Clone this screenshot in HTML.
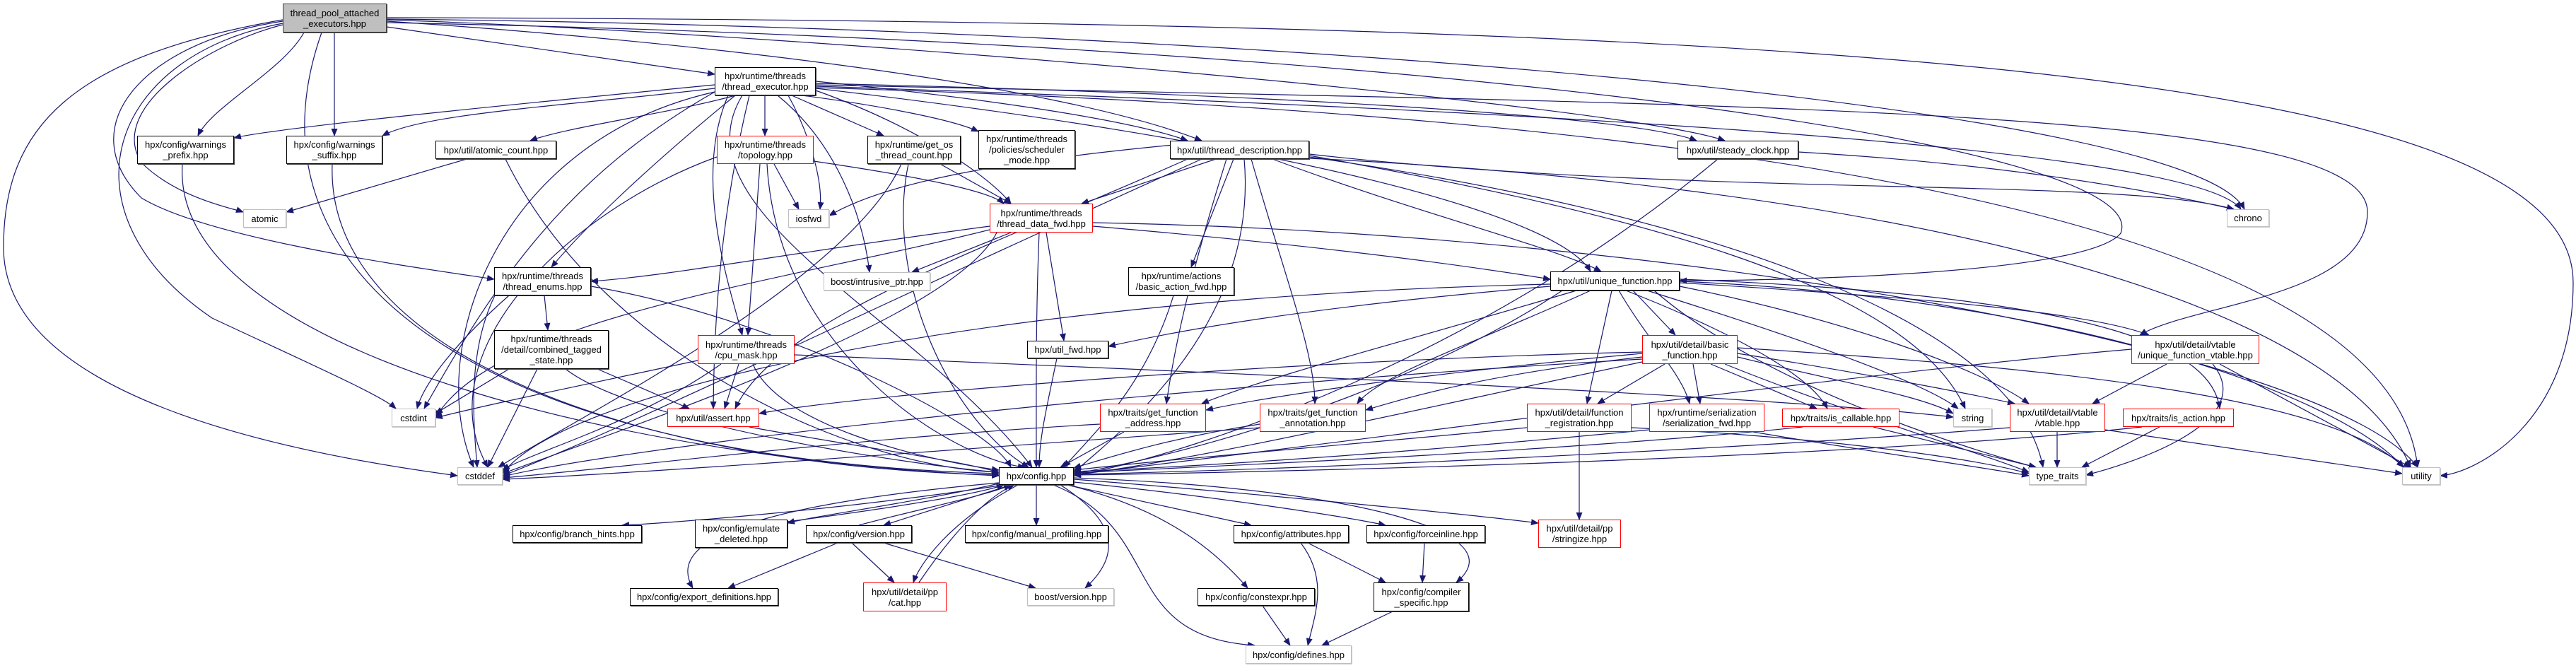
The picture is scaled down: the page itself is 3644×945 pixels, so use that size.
<!DOCTYPE html>
<html><head><meta charset="utf-8">
<style>
html,body{margin:0;padding:0;background:#fff;}
#w{position:relative;width:3644px;height:945px;overflow:hidden;background:#fff;}
svg{position:absolute;left:0;top:0;}
.n{position:absolute;box-sizing:border-box;border:1px solid #000;background:#fff;display:flex;align-items:center;justify-content:center;text-align:center;font-family:"Liberation Sans",sans-serif;font-size:13px;line-height:15px;color:#000;white-space:nowrap;box-shadow:1px 1px 0 #444;}
.r{border-color:#f00;box-shadow:none;}
.g{border-color:#bfbfbf;box-shadow:1px 1px 0 #ccc;}
.root{background:#bfbfbf;border-color:#404040;}
</style></head><body><div id="w">
<svg width="3644" height="945" viewBox="0 0 3644 945">
<defs><marker id="a" markerUnits="userSpaceOnUse" markerWidth="11" markerHeight="9" refX="10" refY="4.5" orient="auto"><path d="M0,0 L11,4.5 L0,9 z" fill="#191970"/></marker></defs>
<g fill="none" stroke="#191970" stroke-width="1.2" marker-end="url(#a)">
<path d="M547,38 L1011,105"/>
<path d="M430,46 C400,100 300,150 280,192"/>
<path d="M473,46 L473,192"/>
<path d="M400,35 C300,60 150,150 200,230 C250,280 330,295 344,300"/>
<path d="M400,30 C200,60 100,180 200,280 C300,340 600,380 699,395"/>
<path d="M400,33 C150,80 80,300 300,450 C450,520 540,560 560,578"/>
<path d="M400,28 C100,80 5,180 5,350 C5,560 400,640 647,673"/>
<path d="M455,46 C330,400 700,650 1413,670"/>
<path d="M547,30 C1000,60 1500,120 1700,199"/>
<path d="M547,28 C1200,50 2300,150 2440,199"/>
<path d="M547,32 C2000,60 3050,200 3000,330 C2950,390 2500,397 2376,397"/>
<path d="M547,27 C1800,40 3100,150 3175,296"/>
<path d="M547,25 C2600,30 3640,100 3640,400 C3640,600 3500,670 3452,673"/>
<path d="M1154,120 C2500,150 3349,150 3349,300 C3349,420 3100,430 3027,474"/>
<path d="M1011,120 C700,150 400,180 331,195"/>
<path d="M1011,125 C800,150 600,160 541,192"/>
<path d="M1040,135 C950,160 800,180 750,199"/>
<path d="M1082,135 L1082,192"/>
<path d="M1120,135 L1250,192"/>
<path d="M1135,135 C1250,150 1350,170 1384,186"/>
<path d="M1154,115 C1400,140 1600,170 1680,199"/>
<path d="M1154,118 C1700,130 2300,160 2400,199"/>
<path d="M1115,135 C1140,180 1165,250 1160,296"/>
<path d="M1154,128 C1300,180 1400,250 1430,288"/>
<path d="M1040,135 C900,250 820,330 780,378"/>
<path d="M1030,135 C980,250 1030,400 1050,474"/>
<path d="M1154,125 C1800,200 2200,300 2250,384"/>
<path d="M1050,135 C950,300 1300,450 1460,661"/>
<path d="M1011,130 C700,200 600,500 670,661"/>
<path d="M1011,130 C800,250 700,400 600,578"/>
<path d="M1154,122 C2000,150 3100,200 3170,296"/>
<path d="M1154,124 C2400,160 3380,300 3420,661"/>
<path d="M1100,135 C1180,200 1220,300 1230,385"/>
<path d="M1060,135 C1020,300 1010,450 1009,578"/>
<path d="M258,232 C240,500 900,650 1413,673"/>
<path d="M470,232 C460,500 900,660 1413,672"/>
<path d="M660,225 L405,300"/>
<path d="M715,225 C850,500 1200,660 1413,668"/>
<path d="M1095,232 L1130,296"/>
<path d="M1075,232 L1058,474"/>
<path d="M1085,232 C1100,500 1350,650 1450,661"/>
<path d="M1014,222 C800,300 600,500 690,661"/>
<path d="M1151,228 C1300,250 1400,270 1420,288"/>
<path d="M1330,232 L1430,288"/>
<path d="M1285,232 C1250,400 1350,600 1455,661"/>
<path d="M1275,232 C1200,400 800,600 705,661"/>
<path d="M1660,205 C1400,230 1250,260 1173,305"/>
<path d="M1720,225 L1530,288"/>
<path d="M1745,225 L1685,378"/>
<path d="M1800,225 C2000,300 2200,350 2265,384"/>
<path d="M1735,225 C1680,400 1660,500 1650,571"/>
<path d="M1770,225 C1820,400 1860,500 1860,571"/>
<path d="M1760,225 C1780,450 1600,600 1519,668"/>
<path d="M1852,220 C2300,300 2700,400 2780,578"/>
<path d="M1852,222 C2400,300 2850,450 2890,661"/>
<path d="M1852,224 C2600,260 3300,400 3410,661"/>
<path d="M1680,225 C1400,350 1100,450 1040,578"/>
<path d="M1700,225 C1200,450 900,600 711,673"/>
<path d="M1852,218 C2400,280 3000,250 3160,296"/>
<path d="M2544,215 C2800,230 3000,260 3160,296"/>
<path d="M2430,225 C2100,500 1700,640 1519,673"/>
<path d="M1400,320 C1100,360 950,390 836,398"/>
<path d="M1430,329 L1290,385"/>
<path d="M1480,329 L1505,482"/>
<path d="M1546,320 C1900,350 2100,380 2193,395"/>
<path d="M1470,329 C1465,450 1466,550 1466,661"/>
<path d="M1410,329 C1350,450 900,600 711,670"/>
<path d="M1400,325 C1100,400 700,450 616,591"/>
<path d="M1546,315 C2400,330 3300,500 3420,661"/>
<path d="M770,418 L775,467"/>
<path d="M836,405 C1100,450 1400,600 1430,661"/>
<path d="M720,418 C650,480 600,540 590,578"/>
<path d="M700,418 C660,500 670,600 675,661"/>
<path d="M1660,418 C1620,550 1540,620 1505,661"/>
<path d="M2193,405 C1900,430 1700,460 1568,490"/>
<path d="M2310,411 L2370,474"/>
<path d="M2376,400 C2700,420 2950,440 3040,474"/>
<path d="M2230,411 C2000,480 1800,530 1700,571"/>
<path d="M2250,411 C2100,480 1950,530 1920,571"/>
<path d="M2280,411 L2245,571"/>
<path d="M2290,411 C2330,480 2380,530 2390,571"/>
<path d="M2300,411 C2450,470 2560,530 2585,578"/>
<path d="M2376,405 C2600,450 2800,520 2870,571"/>
<path d="M2330,411 C2550,480 2720,540 2770,578"/>
<path d="M2210,411 C2000,550 1700,640 1519,670"/>
<path d="M2193,402 C1400,420 800,550 711,670"/>
<path d="M2340,411 C2500,550 2800,640 2880,661"/>
<path d="M2376,398 C2900,420 3300,550 3400,661"/>
<path d="M2376,395 C3000,420 3130,500 3140,578"/>
<path d="M720,522 L616,585"/>
<path d="M760,522 L690,661"/>
<path d="M845,522 L975,578"/>
<path d="M800,522 C900,600 1300,660 1413,668"/>
<path d="M1045,515 L1025,578"/>
<path d="M987,510 C800,550 700,570 616,591"/>
<path d="M1020,515 C900,600 750,640 711,665"/>
<path d="M1065,515 C1100,600 1300,650 1413,665"/>
<path d="M1124,502 C1800,530 2500,560 2763,590"/>
<path d="M1495,507 C1480,580 1470,620 1470,661"/>
<path d="M2323,500 C2000,530 1800,560 1706,580"/>
<path d="M2323,505 C2100,530 2000,560 1932,580"/>
<path d="M2355,515 L2260,571"/>
<path d="M2395,515 L2405,571"/>
<path d="M2420,515 L2570,578"/>
<path d="M2458,505 C2600,540 2720,560 2763,585"/>
<path d="M2458,500 C2650,530 2800,560 2850,571"/>
<path d="M2440,515 C2600,580 2800,640 2870,668"/>
<path d="M2458,492 C2900,520 3300,560 3400,661"/>
<path d="M2323,512 C2000,580 1700,650 1519,672"/>
<path d="M2323,508 C1600,550 900,630 711,674"/>
<path d="M2323,498 C1800,510 1200,560 1074,585"/>
<path d="M3065,515 L2960,571"/>
<path d="M3130,515 C3200,600 3000,660 2951,672"/>
<path d="M3140,515 L3410,661"/>
<path d="M3015,494 C2600,530 1800,640 1519,671"/>
<path d="M1590,611 L1500,661"/>
<path d="M1556,600 C1200,620 900,660 711,676"/>
<path d="M1782,600 C1650,620 1560,650 1519,662"/>
<path d="M1782,605 C1300,640 900,670 711,678"/>
<path d="M2234,611 L2234,735"/>
<path d="M2160,605 C1900,630 1650,650 1519,665"/>
<path d="M2308,605 C2600,620 2800,650 2870,670"/>
<path d="M2333,608 C2000,640 1700,660 1519,667"/>
<path d="M2480,611 C2650,640 2800,660 2870,673"/>
<path d="M2550,604 C2200,640 1700,660 1519,669"/>
<path d="M2650,604 L2880,661"/>
<path d="M2910,611 L2910,661"/>
<path d="M2978,608 L3398,670"/>
<path d="M2843,605 C2400,640 1800,665 1519,671"/>
<path d="M3030,604 C2600,650 1800,668 1519,672"/>
<path d="M3055,604 L2945,661"/>
<path d="M1060,604 C1200,630 1350,650 1413,668"/>
<path d="M1420,686 C1200,720 950,740 880,743"/>
<path d="M1413,684 C1300,710 1150,730 1114,740"/>
<path d="M1430,686 L1250,743"/>
<path d="M1466,686 L1466,743"/>
<path d="M1510,686 L1770,743"/>
<path d="M1519,682 C1700,700 1900,730 1960,743"/>
<path d="M1519,678 C1800,700 2100,730 2176,740"/>
<path d="M1440,686 C1340,740 1300,800 1292,824"/>
<path d="M1500,686 C1600,750 1570,800 1535,832"/>
<path d="M1510,686 C1650,720 1720,780 1765,832"/>
<path d="M1519,676 C1900,690 2150,750 2060,824"/>
<path d="M1413,683 C1000,720 950,780 980,832"/>
<path d="M1490,686 C1650,750 1580,900 1775,913"/>
<path d="M1114,738 C1250,720 1380,700 1420,686"/>
<path d="M1215,743 C1300,720 1400,700 1430,686"/>
<path d="M1300,824 C1350,750 1400,700 1435,686"/>
<path d="M1205,768 L1265,824"/>
<path d="M1250,768 L1465,832"/>
<path d="M1185,768 L1030,832"/>
<path d="M1850,768 L1960,824"/>
<path d="M1840,768 C1880,820 1860,870 1850,913"/>
<path d="M2015,768 L2012,824"/>
<path d="M1786,857 L1825,913"/>
<path d="M1970,865 L1870,913"/>
</g></svg>

<div class="n root" style="left:400px;top:5px;width:147px;height:41px">thread_pool_attached<br>_executors.hpp</div>
<div class="n" style="left:1011px;top:95px;width:143px;height:40px">hpx/runtime/threads<br>/thread_executor.hpp</div>
<div class="n" style="left:194px;top:192px;width:137px;height:40px">hpx/config/warnings<br>_prefix.hpp</div>
<div class="n" style="left:405px;top:192px;width:136px;height:40px">hpx/config/warnings<br>_suffix.hpp</div>
<div class="n" style="left:616px;top:199px;width:171px;height:26px">hpx/util/atomic_count.hpp</div>
<div class="n r" style="left:1014px;top:192px;width:137px;height:40px">hpx/runtime/threads<br>/topology.hpp</div>
<div class="n" style="left:1227px;top:192px;width:132px;height:40px">hpx/runtime/get_os<br>_thread_count.hpp</div>
<div class="n" style="left:1384px;top:184px;width:137px;height:55px">hpx/runtime/threads<br>/policies/scheduler<br>_mode.hpp</div>
<div class="n" style="left:1655px;top:199px;width:197px;height:26px">hpx/util/thread_description.hpp</div>
<div class="n" style="left:2373px;top:199px;width:171px;height:26px">hpx/util/steady_clock.hpp</div>
<div class="n g" style="left:344px;top:296px;width:61px;height:26px">atomic</div>
<div class="n g" style="left:1115px;top:296px;width:58px;height:26px">iosfwd</div>
<div class="n g" style="left:3150px;top:296px;width:60px;height:25px">chrono</div>
<div class="n r" style="left:1400px;top:288px;width:146px;height:41px">hpx/runtime/threads<br>/thread_data_fwd.hpp</div>
<div class="n" style="left:699px;top:378px;width:137px;height:40px">hpx/runtime/threads<br>/thread_enums.hpp</div>
<div class="n g" style="left:1165px;top:385px;width:151px;height:26px">boost/intrusive_ptr.hpp</div>
<div class="n" style="left:1596px;top:378px;width:150px;height:40px">hpx/runtime/actions<br>/basic_action_fwd.hpp</div>
<div class="n" style="left:2193px;top:384px;width:183px;height:27px">hpx/util/unique_function.hpp</div>
<div class="n" style="left:699px;top:467px;width:162px;height:55px">hpx/runtime/threads<br>/detail/combined_tagged<br>_state.hpp</div>
<div class="n r" style="left:987px;top:474px;width:137px;height:41px">hpx/runtime/threads<br>/cpu_mask.hpp</div>
<div class="n" style="left:1453px;top:482px;width:115px;height:25px">hpx/util_fwd.hpp</div>
<div class="n r" style="left:2323px;top:474px;width:135px;height:41px">hpx/util/detail/basic<br>_function.hpp</div>
<div class="n r" style="left:3015px;top:474px;width:181px;height:41px">hpx/util/detail/vtable<br>/unique_function_vtable.hpp</div>
<div class="n g" style="left:554px;top:578px;width:62px;height:26px">cstdint</div>
<div class="n r" style="left:944px;top:578px;width:130px;height:26px">hpx/util/assert.hpp</div>
<div class="n r" style="left:1556px;top:571px;width:150px;height:40px">hpx/traits/get_function<br>_address.hpp</div>
<div class="n r" style="left:1782px;top:571px;width:150px;height:40px">hpx/traits/get_function<br>_annotation.hpp</div>
<div class="n r" style="left:2160px;top:571px;width:148px;height:40px">hpx/util/detail/function<br>_registration.hpp</div>
<div class="n r" style="left:2333px;top:571px;width:163px;height:40px">hpx/runtime/serialization<br>/serialization_fwd.hpp</div>
<div class="n r" style="left:2521px;top:578px;width:166px;height:26px">hpx/traits/is_callable.hpp</div>
<div class="n g" style="left:2763px;top:578px;width:55px;height:26px">string</div>
<div class="n r" style="left:2843px;top:571px;width:135px;height:40px">hpx/util/detail/vtable<br>/vtable.hpp</div>
<div class="n r" style="left:3003px;top:578px;width:157px;height:26px">hpx/traits/is_action.hpp</div>
<div class="n g" style="left:647px;top:661px;width:64px;height:25px">cstddef</div>
<div class="n" style="left:1413px;top:661px;width:106px;height:25px">hpx/config.hpp</div>
<div class="n g" style="left:2870px;top:661px;width:81px;height:25px">type_traits</div>
<div class="n g" style="left:3398px;top:661px;width:54px;height:25px">utility</div>
<div class="n" style="left:725px;top:743px;width:183px;height:25px">hpx/config/branch_hints.hpp</div>
<div class="n" style="left:983px;top:735px;width:131px;height:40px">hpx/config/emulate<br>_deleted.hpp</div>
<div class="n" style="left:1140px;top:743px;width:150px;height:25px">hpx/config/version.hpp</div>
<div class="n" style="left:1365px;top:743px;width:203px;height:25px">hpx/config/manual_profiling.hpp</div>
<div class="n" style="left:1745px;top:743px;width:163px;height:25px">hpx/config/attributes.hpp</div>
<div class="n" style="left:1933px;top:743px;width:168px;height:25px">hpx/config/forceinline.hpp</div>
<div class="n r" style="left:2176px;top:735px;width:117px;height:40px">hpx/util/detail/pp<br>/stringize.hpp</div>
<div class="n r" style="left:1221px;top:824px;width:118px;height:41px">hpx/util/detail/pp<br>/cat.hpp</div>
<div class="n g" style="left:1453px;top:832px;width:123px;height:25px">boost/version.hpp</div>
<div class="n" style="left:1694px;top:832px;width:166px;height:25px">hpx/config/constexpr.hpp</div>
<div class="n" style="left:1943px;top:824px;width:135px;height:41px">hpx/config/compiler<br>_specific.hpp</div>
<div class="n" style="left:891px;top:832px;width:210px;height:25px">hpx/config/export_definitions.hpp</div>
<div class="n g" style="left:1762px;top:913px;width:150px;height:26px">hpx/config/defines.hpp</div>
</div></body></html>
